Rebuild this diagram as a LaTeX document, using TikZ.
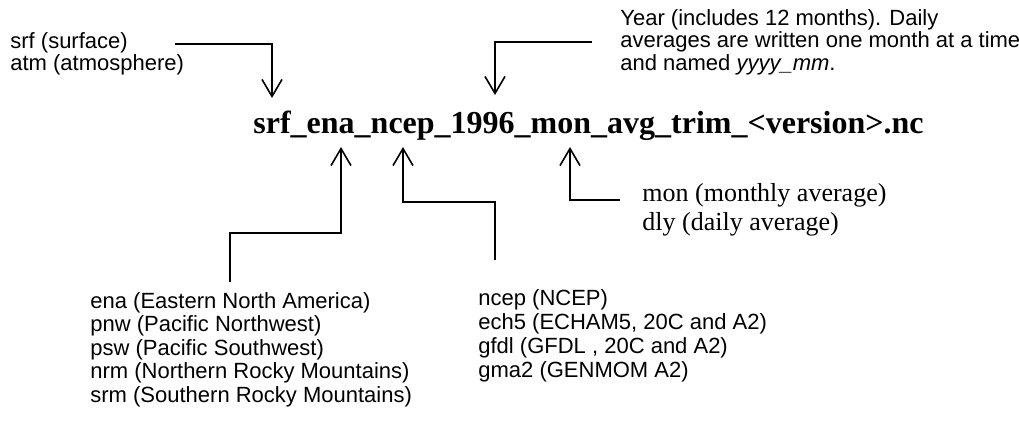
\documentclass[tikz,border=0pt]{standalone}
\usepackage{fontspec}
\setmainfont{Liberation Serif}
\setsansfont{Liberation Sans}
\usetikzlibrary{arrows.meta}

\begin{document}
\begin{tikzpicture}[x=0.5pt,y=-0.5pt]
\tikzstyle pointer=[line width=0.8pt, -{Straight Barb[length=8.5pt,width=10pt,line width=0.8pt]}]
\tikzstyle sanslabel=[anchor=base west, inner sep=0pt, align=left, font=\sffamily\fontsize{11}{11.75}\selectfont]
\tikzstyle seriflabel=[anchor=base west, inner sep=0pt, align=left, font=\fontsize{13}{14.5}\selectfont]
\useasboundingbox (0,0) rectangle (1019,441);
% file name
\node[anchor=base west, inner sep=0pt, font=\bfseries\fontsize{16}{19}\selectfont] (fname) at (253,133)
  {srf\_ena\_ncep\_1996\_mon\_avg\_trim\_<version>.nc};
% labels (base = last line)
\node[sanslabel, font=\sffamily\fontsize{11}{11}\selectfont] (level) at (10,70) {srf (surface)\\atm (atmosphere)};
\node[sanslabel, font=\sffamily\fontsize{11}{11.25}\selectfont] (year) at (620,70) {Year (includes 12 months). Daily\\averages are written one month at a time\\and named \textit{yyyy\_mm}.};
\node[sanslabel] (region) at (90,402) {ena (Eastern North America)\\pnw (Pacific Northwest)\\psw (Pacific Southwest)\\nrm (Northern Rocky Mountains)\\srm (Southern Rocky Mountains)};
\node[sanslabel, font=\sffamily\fontsize{11}{12}\selectfont] (model) at (478,377) {ncep (NCEP)\\ech5 (ECHAM5, 20C and A2)\\gfdl (GFDL , 20C and A2)\\gma2 (GENMOM A2)};
\node[seriflabel] (period) at (642,230) {mon (monthly average)\\dly (daily average)};
% arrow ends
\coordinate (srftail) at (175,44);
\coordinate (srftip) at (272,98);
\coordinate (yeartail) at (592,42);
\coordinate (yeartip) at (495,95);
\coordinate (enatail) at (230,282);
\coordinate (enatip) at (341,147);
\coordinate (nceptail) at (495,260);
\coordinate (nceptip) at (403,147);
\coordinate (montail) at (620,200);
\coordinate (montip) at (570,147);
% arrows
\draw[pointer] (srftail) -| (srftip);
\draw[pointer] (yeartail) -| (yeartip);
\draw[pointer] (enatail) |- (341,233) -- (enatip);
\draw[pointer] (nceptail) |- (403,202) -- (nceptip);
\draw[pointer] (montail) -| (montip);
\end{tikzpicture}
\end{document}
